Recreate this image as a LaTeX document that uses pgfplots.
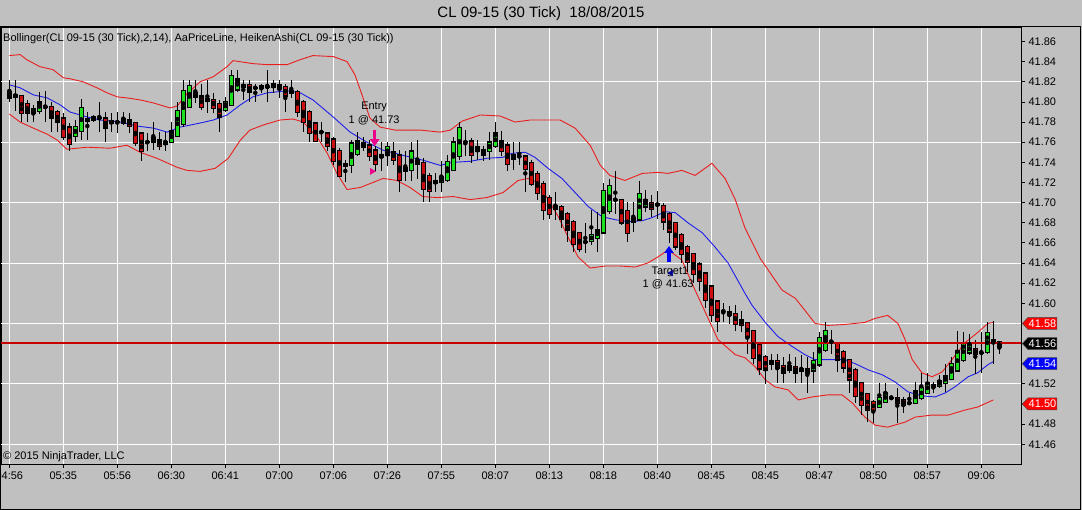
\documentclass[border=0pt]{standalone}
\usepackage{fontspec}
\setmainfont{Liberation Sans}
\usepackage{pgfplots}
\pgfplotsset{compat=1.18}
\usepackage{pgfplotstable}
\usetikzlibrary{arrows.meta}

\definecolor{bg}{RGB}{192,192,192}
\definecolor{hagreen}{RGB}{30,225,30}
\definecolor{hared}{RGB}{205,15,15}
\definecolor{bandred}{RGB}{235,30,30}
\definecolor{midblue}{RGB}{30,30,235}
\definecolor{priceline}{RGB}{200,0,0}
\newcommand\fnt{\fontsize{11}{13}\selectfont}

% Heiken Ashi candles: index, open, high, low, close
\pgfplotstableread{
i o h l c
0 41.804 41.822 41.800 41.810
5 41.791 41.810 41.788 41.800
6 41.795 41.811 41.780 41.795
11 41.766 41.782 41.760 41.775
12 41.771 41.803 41.762 41.794
14 41.782 41.787 41.780 41.785
15 41.784 41.800 41.770 41.784
17 41.779 41.789 41.770 41.781
18 41.780 41.790 41.769 41.780
19 41.779 41.790 41.777 41.783
23 41.760 41.769 41.751 41.760
24 41.760 41.780 41.752 41.764
26 41.758 41.770 41.751 41.760
27 41.760 41.780 41.759 41.771
28 41.766 41.800 41.766 41.791
29 41.778 41.822 41.775 41.811
30 41.795 41.822 41.794 41.816
31 41.805 41.822 41.799 41.809
33 41.801 41.822 41.789 41.803
36 41.792 41.805 41.790 41.800
37 41.797 41.832 41.797 41.826
38 41.812 41.832 41.810 41.823
41 41.814 41.818 41.800 41.814
42 41.814 41.818 41.809 41.816
43 41.815 41.832 41.800 41.815
44 41.815 41.822 41.809 41.818
52 41.770 41.780 41.760 41.770
57 41.737 41.762 41.729 41.759
58 41.748 41.770 41.746 41.761
59 41.755 41.765 41.751 41.759
62 41.745 41.760 41.731 41.748
63 41.747 41.760 41.736 41.756
67 41.732 41.760 41.722 41.751
71 41.719 41.729 41.711 41.722
72 41.720 41.741 41.711 41.726
73 41.722 41.747 41.721 41.741
74 41.732 41.765 41.731 41.760
75 41.746 41.780 41.742 41.774
76 41.760 41.772 41.746 41.760
80 41.751 41.770 41.742 41.760
81 41.756 41.780 41.754 41.769
85 41.746 41.760 41.737 41.746
96 41.661 41.680 41.650 41.661
97 41.662 41.693 41.658 41.668
98 41.665 41.691 41.651 41.673
99 41.670 41.719 41.670 41.712
100 41.691 41.723 41.689 41.717
101 41.703 41.731 41.689 41.703
104 41.681 41.701 41.671 41.685
105 41.683 41.721 41.683 41.709
106 41.696 41.713 41.691 41.703
108 41.697 41.712 41.684 41.699
119 41.592 41.600 41.582 41.592
127 41.540 41.550 41.534 41.543
130 41.534 41.550 41.531 41.538
132 41.533 41.549 41.521 41.535
134 41.533 41.552 41.521 41.543
135 41.539 41.572 41.537 41.566
136 41.553 41.581 41.552 41.573
137 41.562 41.574 41.550 41.562
145 41.497 41.521 41.496 41.506
146 41.502 41.521 41.501 41.511
147 41.506 41.509 41.504 41.506
150 41.501 41.511 41.499 41.501
151 41.501 41.522 41.500 41.513
152 41.506 41.531 41.504 41.516
153 41.511 41.531 41.510 41.521
154 41.517 41.522 41.511 41.519
155 41.518 41.529 41.516 41.523
156 41.521 41.540 41.512 41.528
157 41.525 41.547 41.524 41.540
158 41.533 41.572 41.532 41.553
159 41.543 41.572 41.542 41.561
160 41.551 41.570 41.549 41.559
162 41.551 41.572 41.531 41.551
163 41.551 41.582 41.550 41.571
164 41.561 41.582 41.540 41.564
}\upcandles

\pgfplotstableread{
i o h l c
1 41.807 41.822 41.791 41.805
2 41.806 41.806 41.780 41.789
3 41.798 41.802 41.780 41.789
4 41.793 41.797 41.780 41.789
7 41.795 41.800 41.770 41.784
8 41.790 41.792 41.770 41.780
9 41.784 41.789 41.762 41.765
10 41.775 41.779 41.751 41.758
13 41.783 41.790 41.762 41.781
16 41.784 41.790 41.760 41.774
20 41.782 41.789 41.769 41.776
21 41.779 41.780 41.756 41.759
22 41.769 41.770 41.741 41.751
25 41.762 41.770 41.752 41.756
32 41.806 41.818 41.792 41.795
34 41.802 41.809 41.789 41.794
35 41.798 41.802 41.770 41.785
39 41.817 41.822 41.802 41.815
40 41.817 41.822 41.800 41.810
45 41.817 41.822 41.804 41.813
46 41.815 41.818 41.790 41.806
47 41.811 41.822 41.804 41.809
48 41.810 41.812 41.785 41.790
49 41.800 41.802 41.770 41.780
50 41.790 41.792 41.760 41.769
51 41.779 41.780 41.760 41.761
53 41.769 41.770 41.751 41.756
54 41.763 41.765 41.737 41.741
55 41.752 41.754 41.726 41.726
56 41.739 41.742 41.721 41.736
60 41.757 41.762 41.741 41.746
61 41.752 41.756 41.731 41.738
64 41.751 41.760 41.737 41.742
65 41.747 41.752 41.711 41.722
66 41.735 41.751 41.721 41.731
68 41.742 41.762 41.724 41.738
69 41.740 41.744 41.701 41.713
70 41.727 41.729 41.701 41.711
77 41.761 41.764 41.739 41.747
78 41.755 41.762 41.742 41.751
79 41.753 41.756 41.741 41.747
82 41.761 41.771 41.746 41.751
83 41.757 41.760 41.731 41.738
84 41.747 41.760 41.732 41.743
86 41.746 41.747 41.711 41.733
87 41.740 41.742 41.716 41.718
88 41.729 41.731 41.703 41.709
89 41.719 41.721 41.683 41.692
90 41.705 41.708 41.684 41.688
91 41.697 41.711 41.683 41.693
92 41.696 41.698 41.675 41.684
93 41.689 41.691 41.661 41.673
94 41.681 41.683 41.651 41.659
95 41.670 41.670 41.651 41.654
102 41.703 41.703 41.678 41.680
103 41.692 41.701 41.661 41.670
107 41.700 41.708 41.686 41.693
109 41.697 41.700 41.673 41.681
110 41.689 41.691 41.660 41.671
111 41.680 41.681 41.653 41.656
112 41.668 41.670 41.640 41.649
113 41.656 41.658 41.631 41.641
114 41.649 41.650 41.620 41.629
115 41.639 41.641 41.612 41.622
116 41.630 41.630 41.595 41.603
117 41.617 41.617 41.582 41.588
118 41.602 41.603 41.572 41.582
120 41.592 41.597 41.580 41.588
121 41.590 41.598 41.572 41.579
122 41.584 41.592 41.572 41.578
123 41.581 41.582 41.550 41.566
124 41.573 41.574 41.540 41.545
125 41.559 41.560 41.529 41.535
126 41.547 41.549 41.520 41.534
128 41.543 41.550 41.521 41.536
129 41.538 41.547 41.521 41.531
131 41.537 41.547 41.521 41.531
133 41.535 41.547 41.511 41.531
138 41.561 41.562 41.532 41.544
139 41.552 41.554 41.531 41.536
140 41.544 41.545 41.511 41.524
141 41.534 41.536 41.501 41.508
142 41.521 41.522 41.489 41.499
143 41.510 41.511 41.482 41.494
144 41.502 41.504 41.481 41.494
148 41.506 41.516 41.481 41.501
149 41.504 41.507 41.491 41.499
161 41.555 41.564 41.530 41.549
165 41.562 41.562 41.550 41.556
}\downcandles

% Bollinger upper band
\pgfplotstableread{
i p
0 41.846
1.8 41.847
2.9 41.842
5.1 41.835
7.3 41.832
9.0 41.824
10.1 41.823
12.3 41.820
14.6 41.814
16.3 41.809
18.0 41.805
19.6 41.804
21.8 41.802
24.0 41.799
26.8 41.794
28.0 41.796
29.6 41.808
31.8 41.820
34.0 41.825
36.3 41.835
37.3 41.841
40.6 41.838
43.0 41.837
46.3 41.837
48.5 41.842
50.6 41.846
54.0 41.845
56.3 41.840
57.6 41.827
58.5 41.812
60.1 41.784
61.8 41.775
64.3 41.772
68.5 41.772
71.8 41.770
73.5 41.772
75.5 41.781
78.5 41.787
81.8 41.786
84.3 41.780
86.8 41.782
91.8 41.782
94.3 41.774
96.8 41.757
98.5 41.737
100.1 41.727
102.6 41.722
105.5 41.729
108.1 41.730
109.8 41.729
112.1 41.732
114.3 41.727
117.1 41.739
119.3 41.724
121.0 41.703
122.6 41.675
125.1 41.645
128.8 41.613
131.0 41.605
132.6 41.593
134.3 41.580
136.4 41.578
139.3 41.579
142.6 41.581
144.3 41.585
146.4 41.588
148.1 41.580
149.3 41.564
150.5 41.544
152.1 41.531
153.8 41.527
155.5 41.532
157.1 41.544
159.3 41.561
161.4 41.571
163.1 41.580
164.0 41.581
}\upband

% Bollinger lower band
\pgfplotstableread{
i p
0 41.788
1.8 41.780
4.0 41.774
6.3 41.768
8.0 41.762
9.6 41.753
13.0 41.755
16.8 41.754
19.6 41.757
21.8 41.750
24.6 41.744
28.0 41.735
29.6 41.732
31.8 41.731
34.3 41.734
36.5 41.744
38.5 41.762
40.1 41.772
42.3 41.777
45.1 41.782
47.3 41.783
49.0 41.780
51.3 41.765
53.0 41.749
54.6 41.729
56.3 41.713
58.5 41.715
60.6 41.720
62.3 41.724
64.6 41.722
66.8 41.715
68.9 41.706
71.3 41.705
74.0 41.706
76.8 41.703
79.6 41.705
82.3 41.710
84.8 41.722
86.5 41.724
88.1 41.720
89.8 41.703
91.5 41.686
93.1 41.666
94.8 41.646
96.8 41.635
99.3 41.637
101.8 41.637
104.3 41.636
106.4 41.640
108.1 41.646
109.8 41.653
112.1 41.643
114.3 41.613
116.4 41.586
118.1 41.564
121.0 41.549
122.6 41.546
124.3 41.537
126.0 41.524
127.6 41.517
129.8 41.514
131.5 41.504
133.8 41.507
136.4 41.509
138.8 41.509
140.5 41.501
142.6 41.487
144.3 41.479
146.4 41.477
149.3 41.482
151.0 41.487
153.8 41.489
156.5 41.489
159.3 41.494
161.4 41.497
164.0 41.504
}\lowband

% Bollinger middle line
\pgfplotstableread{
i p
0 41.817
1.8 41.814
4.0 41.807
6.3 41.804
8.5 41.797
10.1 41.790
13.0 41.785
15.1 41.782
18.5 41.780
21.3 41.776
24.0 41.774
26.3 41.770
28.5 41.775
31.8 41.779
34.0 41.782
36.3 41.787
38.5 41.797
40.6 41.805
43.0 41.809
46.3 41.811
48.5 41.809
50.6 41.802
54.0 41.785
56.8 41.770
59.6 41.760
62.3 41.752
65.6 41.747
69.0 41.742
71.8 41.737
74.0 41.740
76.8 41.741
79.6 41.744
82.3 41.745
83.8 41.749
86.0 41.750
87.6 41.745
89.8 41.734
92.1 41.724
94.3 41.710
96.5 41.696
98.8 41.686
101.0 41.683
103.1 41.681
105.5 41.682
107.1 41.685
109.3 41.691
111.0 41.690
113.1 41.680
115.5 41.670
117.6 41.656
119.8 41.640
122.6 41.610
123.8 41.598
126.0 41.581
128.1 41.567
130.5 41.557
132.6 41.549
134.3 41.544
137.1 41.544
139.3 41.544
141.0 41.540
143.1 41.534
145.5 41.529
147.6 41.522
149.8 41.512
152.1 41.508
154.3 41.507
156.0 41.511
157.6 41.517
159.8 41.527
161.4 41.531
163.1 41.539
164.0 41.542
}\midband

\pgfplotsset{
  wick/.style={only marks, mark=none, error bars/.cd, y dir=both, y explicit,
    error mark=none, error bar style={black, line width=1pt}},
  bodyline/.style={only marks, mark=none, error bars/.cd, y dir=both, y explicit,
    error mark=none, error bar style={black, line width=5pt}},
  bodyfill/.style={only marks, mark=none, error bars/.cd, y dir=both, y explicit,
    error mark=none, error bar style={#1, line width=3pt}},
}

\begin{document}
\begin{tikzpicture}
\fill[bg] (0pt,0pt) rectangle (1082pt,510pt);
\begin{axis}[
  at={(1pt,46pt)}, anchor=south west,
  width=1020pt, height=437pt, scale only axis,
  xmin=-1.383, xmax=168.617,
  ymin=41.4404, ymax=41.8744,
  clip=false,
  axis line style={black, line width=0.8pt},
  every tick/.style={black, line width=0.8pt},
  tick align=outside, major tick length=4pt,
  xtick pos=left, ytick pos=right, yticklabel pos=right,
  tick label style={font=\fnt, black},
  xtick={0,9,18,27,36,45,54,63,72,81,90,99,108,117,126,135,144,153,162},
  xticklabels={04:56,05:35,05:56,06:30,06:41,07:00,07:06,07:26,07:55,08:07,08:13,08:18,08:40,08:45,08:45,08:47,08:50,08:57,09:06},
  ytick={41.46,41.48,41.50,41.52,41.54,41.56,41.58,41.60,41.62,41.64,41.66,41.68,41.70,41.72,41.74,41.76,41.78,41.80,41.82,41.84,41.86},
  yticklabel style={/pgf/number format/.cd, fixed, fixed zerofill, precision=2, assume math mode=true},
  xmajorgrids,
  grid style={white, line width=1pt},
  extra y ticks={41.46,41.52,41.58,41.64,41.70,41.76,41.82},
  extra y tick labels={},
  extra y tick style={grid=major, major tick length=0pt},
]
% bands
\addplot[bandred, line width=0.9pt] table[x=i, y=p] {\upband};
\addplot[bandred, line width=0.9pt] table[x=i, y=p] {\lowband};
\addplot[midblue, line width=0.9pt] table[x=i, y=p] {\midband};

% candles
\addplot[wick] table[x=i, y expr={(\thisrow{h}+\thisrow{l})/2}, y error expr={(\thisrow{h}-\thisrow{l})/2}] {\upcandles};
\addplot[wick] table[x=i, y expr={(\thisrow{h}+\thisrow{l})/2}, y error expr={(\thisrow{h}-\thisrow{l})/2}] {\downcandles};
\addplot[bodyline] table[x=i, y expr={(\thisrow{o}+\thisrow{c})/2}, y error expr={abs(\thisrow{c}-\thisrow{o})/2+0.0008}] {\upcandles};
\addplot[bodyline] table[x=i, y expr={(\thisrow{o}+\thisrow{c})/2}, y error expr={abs(\thisrow{c}-\thisrow{o})/2+0.0008}] {\downcandles};
\addplot[bodyfill=hagreen] table[x=i, y expr={(\thisrow{o}+\thisrow{c})/2}, y error expr={max(abs(\thisrow{c}-\thisrow{o})/2-0.0004,0)}] {\upcandles};
\addplot[bodyfill=hared] table[x=i, y expr={(\thisrow{o}+\thisrow{c})/2}, y error expr={max(abs(\thisrow{c}-\thisrow{o})/2-0.0004,0)}] {\downcandles};

% price line (last close)
\addplot[draw=priceline, line width=1.2pt, mark=none] coordinates {(-1.383,41.5605) (168.617,41.5605)};

% trade markers
\addplot[magenta, line width=3.5pt, -{Triangle[length=7pt,width=9pt]}] coordinates {(60.9,41.772) (60.9,41.756)};
\addplot[only marks, mark=triangle*, mark size=3.5pt, mark options={rotate=-90, fill=magenta, draw=magenta}] coordinates {(60.45,41.731)};
\addplot[blue, line width=3.5pt, -{Triangle[length=7pt,width=9pt]}] coordinates {(109.95,41.641) (109.95,41.657)};
\addplot[only marks, mark=triangle*, mark size=3.2pt, mark options={rotate=90, fill=blue!60!black, draw=blue!60!black}] coordinates {(110.3,41.630)};

\node[font=\fnt, black] at (axis cs:60.8,41.795) {Entry};
\node[font=\fnt, black] at (axis cs:60.8,41.782) {1 @ 41.73};
\node[font=\fnt, black] at (axis cs:110.1,41.631) {Target1};
\node[font=\fnt, black] at (axis cs:109.8,41.619) {1 @ 41.63};

\coordinate (r58) at (axis cs:168.617,41.58);
\coordinate (r56) at (axis cs:168.617,41.56);
\coordinate (r54) at (axis cs:168.617,41.54);
\coordinate (r50) at (axis cs:168.617,41.50);
\end{axis}

% price tags on the right axis
\foreach \c/\f/\t in {r58/red/41.58, r56/black/41.56, r54/blue/41.54, r50/red/41.50}{
  \begin{scope}[shift={(\c)}]
    \draw[fill=\f, draw=black!70, line width=0.5pt]
      (1.3pt,0pt) -- (7pt,6pt) -- (36pt,6pt) -- (36pt,-6pt) -- (7pt,-6pt) -- cycle;
    \node[font=\fnt, white, inner sep=0pt] at (21.5pt,0pt) {\t};
  \end{scope}
}

% frame and texts
\draw[black, line width=1pt] (0.5pt,0.5pt) rectangle (1080.5pt,483pt);
\node[font=\fontsize{15}{18}\selectfont, black] at (541pt,496pt) {CL 09-15 (30 Tick)\ \ 18/08/2015};
\node[font=\fnt, black, anchor=west, inner sep=0pt] at (3pt,471pt) {Bollinger(CL 09-15 (30 Tick),2,14), AaPriceLine, HeikenAshi(CL 09-15 (30 Tick))};
\node[font=\fnt, black, anchor=west, inner sep=0pt] at (3pt,53pt) {© 2015 NinjaTrader, LLC};

\pgfresetboundingbox
\path[use as bounding box] (0pt,0pt) rectangle (1082pt,510pt);
\end{tikzpicture}
\end{document}
